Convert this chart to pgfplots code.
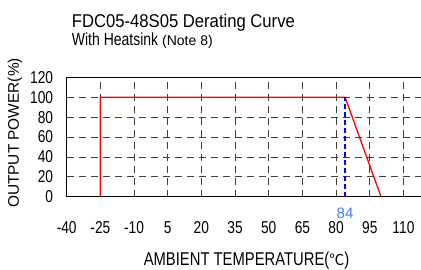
\documentclass[border=0pt]{standalone}
\usepackage{fontspec}
\setmainfont{Liberation Sans}[FakeStretch=0.8]
\newfontfamily\wide{Liberation Sans}
\newfontfamily\titlefont{Liberation Sans}[FakeStretch=0.9]
\newfontfamily\cjk{Noto Sans CJK SC}
\usepackage{pgfplots}
\pgfplotsset{compat=1.18}
\definecolor{lblue}{HTML}{4A7BF7}
\begin{document}
\begin{tikzpicture}[x=1pt,y=1pt]
\useasboundingbox (0,0) rectangle (421,269);
\begin{axis}[
  at={(66.7pt,72.3pt)}, anchor=south west,
  scale only axis, width=359.2pt, height=119.4pt,
  xmin=-40, xmax=120, ymin=0, ymax=120,
  axis line style={black, line width=0.9pt},
  xtick={-40,-25,...,110}, ytick={0,20,...,120},
  tick style={draw=none},
  xmajorgrids, ymajorgrids,
  grid style={black!75, line width=0.7pt, dash pattern=on 7pt off 5pt},
  /pgf/number format/assume math mode=true,
  tick label style={font=\fontsize{17.2}{18}\selectfont},
  xticklabel style={anchor=center, inner sep=0pt, yshift=-31.3pt},
  yticklabel style={anchor=east, inner sep=0pt, xshift=-13.4pt},
  clip=false,
]
\addplot[red, line width=1.3pt] coordinates {(-25,0) (-25,100) (84,100) (100,0)};
\addplot[blue, line width=1.6pt, dash pattern=on 5pt off 3pt] coordinates {(84,0) (84,100)};
\node[text=lblue, font=\wide\fontsize{15}{16}\selectfont, inner sep=0pt, anchor=center] at (axis cs:84,0) [yshift=-16.5pt] {84};
\end{axis}
\node[anchor=base west, inner sep=0pt, font=\titlefont\fontsize{18.5}{20}\selectfont] at (71.7,241.7) {FDC05-48S05 Derating Curve};
\node[anchor=base west, inner sep=0pt, font=\fontsize{17.5}{20}\selectfont] at (71.7,224) {With Heatsink {\wide\fontsize{14}{16}\selectfont(Note 8)}};
\node[rotate=90, anchor=center, inner sep=0pt, font=\wide\fontsize{15.4}{16}\selectfont] at (15,136) {OUTPUT POWER(\%)};
\node[anchor=base, inner sep=0pt, font=\fontsize{18.5}{20}\selectfont] at (246.5,4) {AMBIENT TEMPERATURE({\cjk\fontsize{15}{16}\selectfont ℃})};
\end{tikzpicture}
\end{document}
